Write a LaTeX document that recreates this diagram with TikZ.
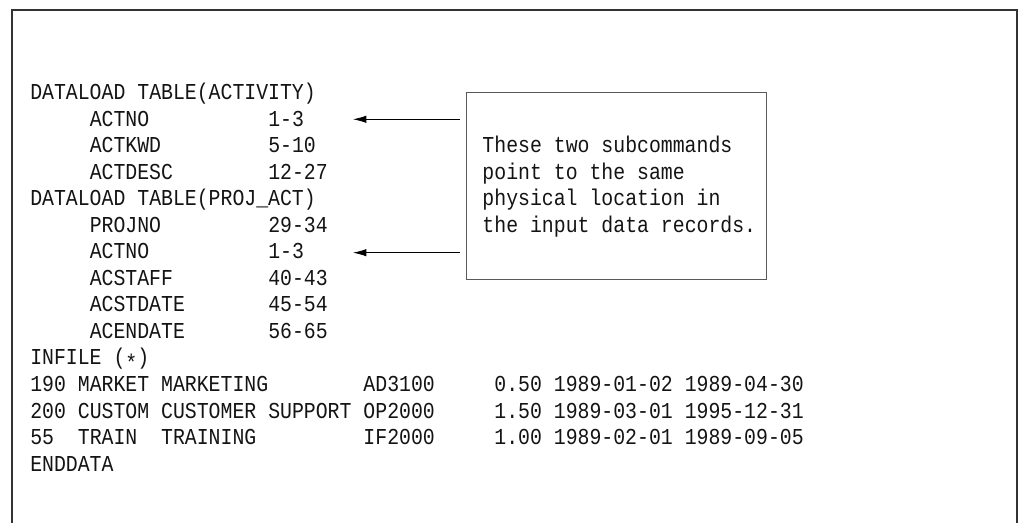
\documentclass[tikz,border=0pt]{standalone}
\usepackage{fontspec}
\newfontfamily\codefont[FakeStretch=0.871]{Liberation Mono}
\usetikzlibrary{arrows.meta}
\newcommand\putk[4]{\node[txt] (#1) at ({30+#2*11.9},{100+#3*26.5}) {#4};}
\begin{document}
\begin{tikzpicture}[x=0.75pt,y=-0.75pt,
  txt/.style={font=\codefont\fontsize{17.07pt}{20pt}\selectfont, inner sep=0pt, anchor=base west, text=black!92},
  frame/.style={draw=black!80, line width=1pt},
  notebox/.style={draw=black!65, line width=0.6pt, minimum width=225pt, minimum height=140.25pt, inner sep=0pt, anchor=north west},
  arr/.style={draw=black, line width=0.6pt, -{Latex[length=10pt,width=5.5pt]}}]
\useasboundingbox (0,0) rectangle (1020,523);
\fill[white] (0,0) rectangle (1020,523);
\draw[frame] (12,523) -- (12,10) -- (1017,10) -- (1017,523);
% statements
\putk{r0a}{0}{0}{DATALOAD}\putk{r0b}{9}{0}{TABLE(ACTIVITY)}
\putk{r1a}{5}{1}{ACTNO}\putk{r1b}{20}{1}{1-3}
\putk{r2a}{5}{2}{ACTKWD}\putk{r2b}{20}{2}{5-10}
\putk{r3a}{5}{3}{ACTDESC}\putk{r3b}{20}{3}{12-27}
\putk{r4a}{0}{4}{DATALOAD}\putk{r4b}{9}{4}{TABLE(PROJ\_ACT)}
\putk{r5a}{5}{5}{PROJNO}\putk{r5b}{20}{5}{29-34}
\putk{r6a}{5}{6}{ACTNO}\putk{r6b}{20}{6}{1-3}
\putk{r7a}{5}{7}{ACSTAFF}\putk{r7b}{20}{7}{40-43}
\putk{r8a}{5}{8}{ACSTDATE}\putk{r8b}{20}{8}{45-54}
\putk{r9a}{5}{9}{ACENDATE}\putk{r9b}{20}{9}{56-65}
\putk{r10a}{0}{10}{INFILE}\putk{r10b}{7}{10}{(\raisebox{-0.22em}{*})}
% data
\putk{r11a}{0}{11}{190}\putk{r11b}{4}{11}{MARKET}\putk{r11c}{11}{11}{MARKETING}
\putk{r11d}{28}{11}{AD3100}\putk{r11e}{39}{11}{0.50}\putk{r11f}{44}{11}{1989-01-02}\putk{r11g}{55}{11}{1989-04-30}
\putk{r12a}{0}{12}{200}\putk{r12b}{4}{12}{CUSTOM}\putk{r12c}{11}{12}{CUSTOMER}\putk{r12h}{20}{12}{SUPPORT}
\putk{r12d}{28}{12}{OP2000}\putk{r12e}{39}{12}{1.50}\putk{r12f}{44}{12}{1989-03-01}\putk{r12g}{55}{12}{1995-12-31}
\putk{r13a}{0}{13}{55}\putk{r13b}{4}{13}{TRAIN}\putk{r13c}{11}{13}{TRAINING}
\putk{r13d}{28}{13}{IF2000}\putk{r13e}{39}{13}{1.00}\putk{r13f}{44}{13}{1989-02-01}\putk{r13g}{55}{13}{1989-09-05}
\putk{r14a}{0}{14}{ENDDATA}
% note box
\node[notebox] (note) at (466,92) {};
\putk{n1a}{38}{2}{These}\putk{n1b}{44}{2}{two}\putk{n1c}{48}{2}{subcommands}
\putk{n2a}{38}{3}{point}\putk{n2b}{44}{3}{to}\putk{n2c}{47}{3}{the}\putk{n2d}{51}{3}{same}
\putk{n3a}{38}{4}{physical}\putk{n3b}{47}{4}{location}\putk{n3c}{56}{4}{in}
\putk{n4a}{38}{5}{the}\putk{n4b}{42}{5}{input}\putk{n4c}{48}{5}{data}\putk{n4d}{53}{5}{records.}
% arrows
\coordinate (t1) at (353,119.3);
\coordinate (t2) at (353,252.7);
\draw[arr, shorten <=4.5pt] (note.west |- t1) -- (t1);
\draw[arr, shorten <=4.5pt] (note.west |- t2) -- (t2);
\end{tikzpicture}
\end{document}
